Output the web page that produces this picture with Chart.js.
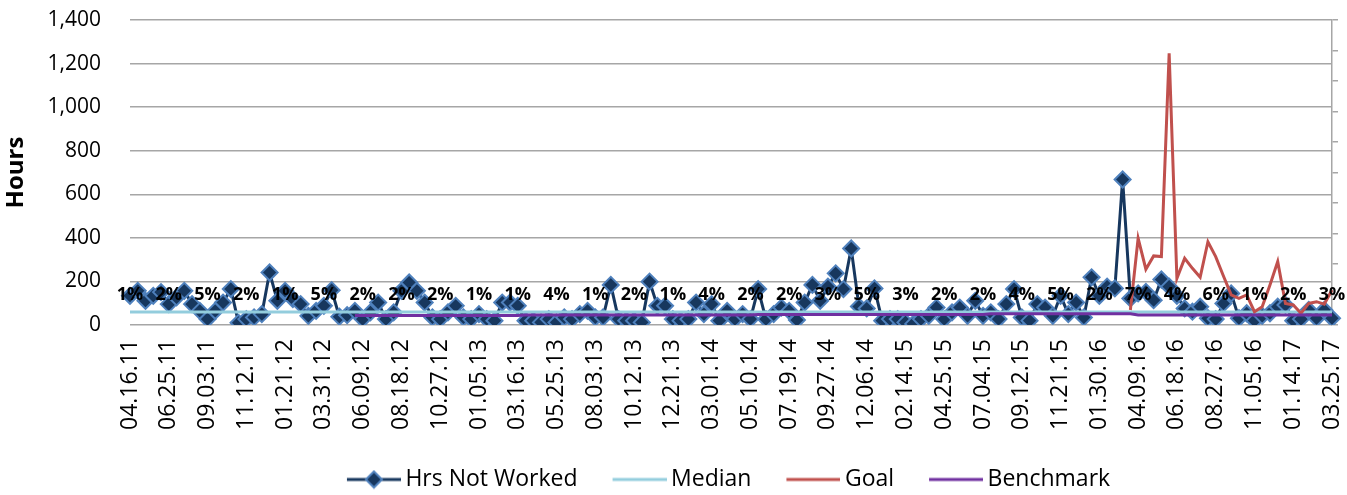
<!DOCTYPE html>
<html>
<head>
<meta charset="utf-8">
<script src="https://cdn.jsdelivr.net/npm/chart.js@4.4.1/dist/chart.umd.min.js"></script>
<style>
  html, body { margin: 0; padding: 0; background: #fff; }
  #wrap { width: 1347px; height: 495px; }
</style>
</head>
<body>
<div id="wrap"><canvas id="hrsChart" width="1347" height="495"></canvas></div>
<script>
// tick labels shown every 5th (biweekly) period
const tickLabels = ["04.16.11", "06.25.11", "09.03.11", "11.12.11", "01.21.12", "03.31.12", "06.09.12", "08.18.12",
  "10.27.12", "01.05.13", "03.16.13", "05.25.13", "08.03.13", "10.12.13", "12.21.13", "03.01.14",
  "05.10.14", "07.19.14", "09.27.14", "12.06.14", "02.14.15", "04.25.15", "07.04.15", "09.12.15",
  "11.21.15", "01.30.16", "04.09.16", "06.18.16", "08.27.16", "11.05.16", "01.14.17", "03.25.17"];

// percentage labels written above the series
const pctLabels = ["1%", "2%", "5%", "2%", "1%", "5%", "2%", "2%", "2%", "1%", "1%", "4%", "1%", "2%", "1%", "4%",
  "2%", "2%", "3%", "5%", "3%", "2%", "2%", "4%", "5%", "2%", "7%", "4%", "6%", "1%", "2%", "3%"];
const pctLevel = 137;

const hrsNotWorked = [
  134, 157, 111, 134, 151, 96, 127, 157, 96, 65,
  27, 65, 103, 165, 10, 27, 35, 50, 241, 111,
  157, 119, 96, 42, 65, 88, 160, 38, 45, 65,
  27, 58, 103, 27, 58, 157, 195, 157, 103, 35,
  27, 58, 88, 35, 27, 50, 27, 20, 103, 103,
  88, 20, 20, 12, 27, 12, 35, 27, 50, 65,
  35, 35, 184, 27, 20, 20, 12, 199, 88, 88,
  27, 20, 27, 103, 50, 96, 20, 65, 27, 50,
  27, 165, 27, 50, 80, 65, 23, 103, 184, 111,
  176, 237, 165, 351, 85, 76, 168, 20, 27, 27,
  12, 5, 27, 42, 80, 27, 58, 80, 42, 111,
  42, 58, 27, 96, 165, 35, 20, 96, 80, 42,
  134, 50, 103, 35, 219, 134, 176, 168, 668, 122,
  145, 152, 114, 209, 176, 134, 76, 61, 84, 31,
  27, 99, 145, 31, 54, 20, 42, 54, 84, 92,
  20, 27, 69, 31, 69, 31
];

const median = [
  60, 60, 60, 60, 60, 60, 60, 60, 60, 60, 60, 60, 60, 60, 60, 60, 60, 60, 60, 60,
  60, 60, 60, 60, 60, 60, 60, 60, 60, 60, 60, 60, 60, 60, 60, 60, 60, 60, 60, 60,
  60, 60, 60, 60, 60, 60, 60, 60, 60, 60, 60, 60, 60, 60, 60, 60, 60, 60, 60, 60,
  60, 60, 60, 60, 60, 60, 60, 60, 60, 60, 60, 60, 60, 60, 60, 60, 60, 60, 60, 60,
  60, 60, 60, 60, 60, 60, 60, 60, 60, 60, 60, 60, 60, 60, 60, 60, 60, 60, 60, 60,
  60, 60, 60, 60, 60, 60, 60, 60, 60, 60, 60, 60, 60, 60, 60, 60, 60, 60, 60, 60,
  60, 60, 60, 60, 60, 60, 60, 60, 60, 60, 60, 60, 60, 60, 60, 60, 60, 60, 60, 60,
  60, 60, 60, 60, 60, 60, 60, 60, 60, 60, 60, 60, 60, 60, 60, 60
];

const goal = [
  null, null, null, null, null, null, null, null, null, null, null, null, null, null, null, null, null, null, null, null,
  null, null, null, null, null, null, null, null, null, null, null, null, null, null, null, null, null, null, null, null,
  null, null, null, null, null, null, null, null, null, null, null, null, null, null, null, null, null, null, null, null,
  null, null, null, null, null, null, null, null, null, null, null, null, null, null, null, null, null, null, null, null,
  null, null, null, null, null, null, null, null, null, null, null, null, null, null, null, null, null, null, null, null,
  null, null, null, null, null, null, null, null, null, null, null, null, null, null, null, null, null, null, null, null,
  null, null, null, null, null, null, null, null, null, 69,
  398, 256, 317, 314, 1247, 214, 306, 260, 219, 382,
  314, 225, 138, 122, 138, 61, 84, 184, 291, 99,
  92, 54, 99, 107, 96, 161
];

const benchmark = [
  null, null, null, null, null, null, null, null, null, null, null, null, null, null, null, null, null, null, null, null,
  null, null, null, null, null, null, null, null, null, 44,
  44, 44, 44, 44, 44, 44, 44, 44, 44, 44, 44, 44, 44, 44, 44, 44, 44, 44, 44, 44,
  44, 46, 46, 46, 46, 46, 46, 46, 46, 46, 46, 46, 46, 46, 46, 46, 46, 46, 46, 46,
  46, 46, 46, 46, 46, 46, 46, 46, 46, 46, 46, 48, 48, 48, 48, 48, 48, 48, 48, 48,
  48, 48, 48, 48, 48, 48, 48, 48, 48, 48, 48, 48, 48, 48, 48, 48, 48, 48, 48, 48,
  48, 52, 52, 52, 52, 52, 52, 52, 52, 52, 52, 52, 52, 52, 52, 52, 52, 52, 52, 52,
  46, 46, 46, 46, 46, 46, 46, 46, 46, 46, 46, 46, 46, 46, 46, 46, 46, 46, 46, 46,
  46, 46, 46, 46, 46, 46
];

// biweekly periods starting 04.16.11
const periods = [];
for (let k = 0; k < hrsNotWorked.length; k++) {
  const d = new Date(Date.UTC(2011, 3, 16 + 14 * k));
  const mm = String(d.getUTCMonth() + 1).padStart(2, "0");
  const dd = String(d.getUTCDate()).padStart(2, "0");
  const yy = String(d.getUTCFullYear()).slice(2);
  periods.push(mm + "." + dd + "." + yy);
}

const FONT = "'Open Sans', 'Liberation Sans', sans-serif";
const GRID = "#A6A6A6";

// legend sample: transparent lead-in, then a 54px line (with diamond for the main series)
function swatch(color, withMarker) {
  const c = document.createElement("canvas");
  c.width = 90;
  c.height = 20;
  const g = c.getContext("2d");
  g.strokeStyle = color;
  g.lineWidth = 3;
  g.beginPath();
  g.moveTo(36, 10);
  g.lineTo(90, 10);
  g.stroke();
  if (withMarker) {
    g.beginPath();
    g.moveTo(63, 2);
    g.lineTo(71, 10);
    g.lineTo(63, 18);
    g.lineTo(55, 10);
    g.closePath();
    g.fillStyle = "#17375E";
    g.fill();
    g.strokeStyle = "#4F81BD";
    g.lineWidth = 2;
    g.stroke();
  }
  return c;
}

const extraText = {
  id: "extraText",
  beforeDraw(chart) {
    // centre the legend under the plot area rather than the canvas
    chart.legend.left = 90;
  },
  afterDatasetsDraw(chart) {
    const ctx = chart.ctx;
    const xs = chart.scales.x;
    const ys = chart.scales.y;
    const area = chart.chartArea;
    ctx.save();
    ctx.font = "bold 18px " + FONT;
    ctx.fillStyle = "#000";
    ctx.textAlign = "center";
    ctx.textBaseline = "middle";
    pctLabels.forEach((t, j) => {
      ctx.fillText(t, xs.getPixelForValue(j * 5), ys.getPixelForValue(pctLevel));
    });
    // y axis title
    ctx.translate(16, (area.top + area.bottom) / 2);
    ctx.rotate(-Math.PI / 2);
    ctx.font = "bold 24px " + FONT;
    ctx.fillText("Hours", 0, 0);
    ctx.restore();
  }
};

const ctx = document.getElementById("hrsChart").getContext("2d");

new Chart(ctx, {
  type: "line",
  data: {
    labels: periods,
    datasets: [
      {
        label: "Hrs Not Worked",
        data: hrsNotWorked,
        borderColor: "#17375E",
        borderWidth: 3,
        pointStyle: "rectRot",
        pointRadius: 8,
        pointBackgroundColor: "#17375E",
        pointBorderColor: "#4F81BD",
        pointBorderWidth: 2,
        order: 4,
        legendSwatch: swatch("#17375E", true)
      },
      {
        label: "Median",
        data: median,
        borderColor: "#93CDDD",
        borderWidth: 3,
        pointRadius: 0,
        order: 3,
        legendSwatch: swatch("#93CDDD", false)
      },
      {
        label: "Goal",
        data: goal,
        borderColor: "#C0504D",
        borderWidth: 3,
        pointRadius: 0,
        order: 2,
        legendSwatch: swatch("#C0504D", false)
      },
      {
        label: "Benchmark",
        data: benchmark,
        borderColor: "#7030A0",
        borderWidth: 3,
        pointRadius: 0,
        order: 1,
        legendSwatch: swatch("#7030A0", false)
      }
    ]
  },
  options: {
    responsive: false,
    animation: false,
    events: [],
    layout: { padding: { top: 20, right: 9, left: 0, bottom: -6 } },
    scales: {
      x: {
        grid: { display: true, drawOnChartArea: false, drawTicks: true, tickLength: 11, tickColor: "transparent" },
        border: { display: false },
        afterFit(scale) {
          scale.height = 137;
          scale.paddingLeft = 0;
          scale.paddingRight = 0;
        },
        ticks: {
          autoSkip: false,
          maxRotation: 90,
          minRotation: 90,
          padding: 3,
          color: "#000",
          font: { family: FONT, size: 23 },
          callback(v, i) { return i % 5 === 0 ? tickLabels[i / 5] : ""; }
        }
      },
      y: {
        min: 0,
        max: 1400,
        afterFit(scale) { scale.width = 130; },
        grid: { color: GRID, lineWidth: 1.5, drawTicks: true, tickLength: 26, tickColor: "transparent" },
        border: { display: false },
        ticks: {
          stepSize: 200,
          padding: 3,
          color: "#000",
          font: { family: FONT, size: 21 },
          callback(v) { return v.toLocaleString("en-US"); }
        }
      },
      y2: {
        position: "right",
        min: 0,
        max: 1,
        afterFit(scale) { scale.width = 6; },
        grid: { drawOnChartArea: false, drawTicks: true, tickLength: 6, color: GRID, lineWidth: 1.5 },
        border: { display: true, color: GRID, width: 1.5 },
        ticks: { display: false, stepSize: 0.1 }
      }
    },
    plugins: {
      tooltip: { enabled: false },
      legend: {
        position: "bottom",
        labels: {
          color: "#000",
          font: { family: FONT, size: 23 },
          usePointStyle: true,
          pointStyleWidth: 76,
          boxHeight: 20,
          padding: 6,
          generateLabels(chart) {
            return chart.data.datasets.map((ds, i) => ({
              text: ds.label,
              pointStyle: ds.legendSwatch,
              fillStyle: ds.borderColor,
              strokeStyle: ds.borderColor,
              lineWidth: 0,
              hidden: false,
              datasetIndex: i
            }));
          }
        }
      }
    }
  },
  plugins: [extraText]
});
</script>
</body>
</html>
